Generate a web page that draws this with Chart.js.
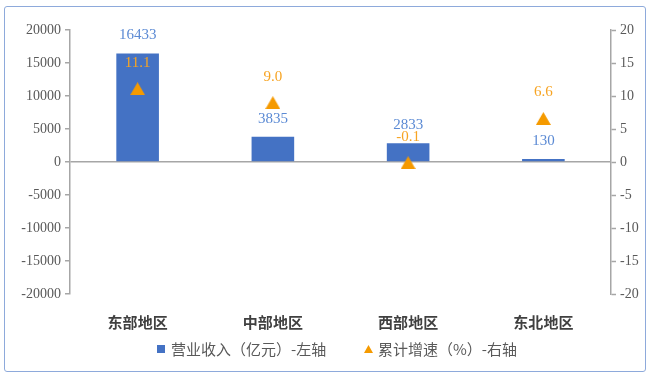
<!DOCTYPE html>
<html><head><meta charset="utf-8">
<script src="https://cdn.jsdelivr.net/npm/chart.js@4"></script>
<style>
html,body{margin:0;padding:0;background:#fff;}
#wrap{position:relative;width:655px;height:381px;}
#frame{position:absolute;left:4px;top:6px;width:642px;height:366px;border:1.5px solid #8eaadb;border-radius:3px;pointer-events:none;box-sizing:border-box;}
</style></head><body>
<div id="wrap"><canvas id="c" width="655" height="381"></canvas><div id="frame"></div></div>
<script>
const categories = ['东部地区', '中部地区', '西部地区', '东北地区'];
const revenue = [16433, 3835, 2833, 130];
const growth = [11.1, 9.0, -0.1, 6.6];
const growthLabels = ['11.1', '9.0', '-0.1', '6.6'];
const leftAxis = { min: -20000, max: 20000, step: 5000 };
const rightAxis = { min: -20, max: 20, step: 5 };
const seriesNames = ['营业收入（亿元）-左轴', '累计增速（%）-右轴'];

const BLUE = '#4472c4';
const ORANGE = '#f59a00';
const AXIS = '#a6a6a6';
const TEXT = '#595959';
const SERIF = "'Liberation Serif', 'Times New Roman', serif";
const CJK = "'Noto Sans CJK SC', sans-serif";

function triangle(w, h, color) {
  const c = document.createElement('canvas');
  c.width = w; c.height = h;
  const g = c.getContext('2d');
  g.fillStyle = color;
  g.beginPath();
  g.moveTo(w / 2, 0); g.lineTo(w, h); g.lineTo(0, h); g.closePath();
  g.fill();
  return c;
}
const triImg = triangle(15, 13, ORANGE);

const labelPlugin = {
  id: 'valueLabels',
  afterDatasetsDraw(chart) {
    const ctx = chart.ctx;
    ctx.save();
    ctx.textAlign = 'center';
    ctx.textBaseline = 'middle';
    ctx.font = '15px ' + SERIF;
    const barMeta = chart.getDatasetMeta(0);
    ctx.fillStyle = '#5b8ad4';
    barMeta.data.forEach((el, i) => {
      ctx.fillText(String(revenue[i]), el.x, el.y - 18);
    });
    const ptMeta = chart.getDatasetMeta(1);
    ctx.fillStyle = '#f7a423';
    ptMeta.data.forEach((el, i) => {
      ctx.fillText(growthLabels[i], el.x, el.y - 26);
    });
    ctx.restore();
  }
};

const legendPlugin = {
  id: 'customLegend',
  afterDraw(chart) {
    const ctx = chart.ctx;
    ctx.save();
    const y = 349;
    ctx.fillStyle = BLUE;
    ctx.fillRect(157, y - 4, 8, 8);
    ctx.drawImage(triangle(9, 8, ORANGE), 364, y - 4);
    ctx.fillStyle = TEXT;
    ctx.font = '15px ' + CJK;
    ctx.textAlign = 'left';
    ctx.textBaseline = 'middle';
    ctx.fillText(seriesNames[0], 171, y);
    ctx.fillText(seriesNames[1], 378, y);
    ctx.restore();
  }
};

new Chart(document.getElementById('c'), {
  data: {
    labels: categories,
    datasets: [
      {
        type: 'bar', label: seriesNames[0], data: revenue, yAxisID: 'y',
        backgroundColor: BLUE, categoryPercentage: 1, barPercentage: 0.315, order: 1,
        minBarLength: 3
      },
      {
        type: 'line', label: seriesNames[1], data: growth, yAxisID: 'y1',
        showLine: false, pointStyle: triImg, pointRadius: 7, order: 0,
        borderColor: ORANGE, backgroundColor: ORANGE
      }
    ]
  },
  options: {
    responsive: false,
    animation: false,
    devicePixelRatio: 1,
    layout: { padding: { top: 30, left: 0, right: 0, bottom: 0 } },
    plugins: { legend: { display: false }, tooltip: { enabled: false } },
    scales: {
      x: {
        type: 'category', position: 'bottom', offset: true,
        grid: { display: false, drawTicks: false },
        border: { display: false },
        ticks: { padding: 19, color: '#404040', font: { family: CJK, size: 15, weight: 'bold' } },
        afterFit(s) { s.height = 87; }
      },
      y: {
        position: 'left', min: leftAxis.min, max: leftAxis.max,
        ticks: { stepSize: leftAxis.step, padding: 4, color: TEXT, font: { family: SERIF, size: 14 },
                 callback: v => String(v) },
        grid: {
          color: c => (c.tick && c.tick.value === 0) ? AXIS : 'rgba(0,0,0,0)',
          lineWidth: 1.5, tickColor: AXIS, tickLength: 5, tickWidth: 1.5
        },
        border: { display: true, color: AXIS, width: 1.5 },
        afterFit(s) { s.width = 70; }
      },
      y1: {
        position: 'right', min: rightAxis.min, max: rightAxis.max,
        ticks: { stepSize: rightAxis.step, padding: 4, color: TEXT, font: { family: SERIF, size: 14 },
                 callback: v => String(v) },
        grid: { drawOnChartArea: false, tickColor: AXIS, tickLength: 5, tickWidth: 1.5 },
        border: { display: true, color: AXIS, width: 1.5 },
        afterFit(s) { s.width = 44; }
      }
    }
  },
  plugins: [labelPlugin, legendPlugin]
});
</script>
</body></html>
